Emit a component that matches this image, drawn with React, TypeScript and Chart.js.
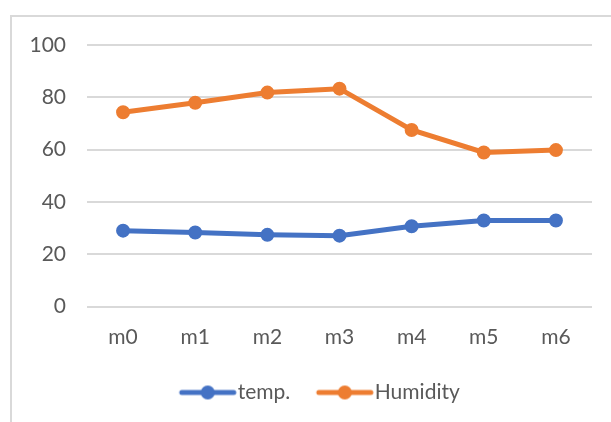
import React, { useEffect, useRef } from "react";
import { Chart, registerables } from "chart.js";

Chart.register(...registerables);

const categories = ["m0", "m1", "m2", "m3", "m4", "m5", "m6"];
const tempValues = [29.0, 28.3, 27.4, 27.1, 30.7, 32.9, 32.9];
const humidityValues = [74.3, 77.9, 81.8, 83.3, 67.5, 58.9, 59.8];
const yTicks = [0, 20, 40, 60, 80, 100];

const BLUE = "#4472C4";
const ORANGE = "#ED7D31";
const TEXT = "#595959";
const GRID = "#D9D9D9";
const FONT = "Lato, 'Open Sans', sans-serif";
const FS = 21;

function legendImage(color: string): HTMLCanvasElement {
  const c = document.createElement("canvas");
  const w = 64 + FS;
  c.width = w;
  c.height = 20;
  const ctx = c.getContext("2d")!;
  ctx.strokeStyle = color;
  ctx.lineWidth = 5;
  ctx.lineCap = "round";
  ctx.beginPath();
  ctx.moveTo(w - 56, 10);
  ctx.lineTo(w - 4, 10);
  ctx.stroke();
  ctx.fillStyle = color;
  ctx.beginPath();
  ctx.arc(w - 30, 10, 7, 0, Math.PI * 2);
  ctx.fill();
  return c;
}

export default function App() {
  const ref = useRef<HTMLCanvasElement>(null);

  useEffect(() => {
    document.body.style.margin = "0";
    const imgs = [legendImage(BLUE), legendImage(ORANGE)];
    const chart = new Chart(ref.current!, {
      type: "line",
      data: {
        labels: categories,
        datasets: [
          {
            label: "temp.",
            data: tempValues,
            borderColor: BLUE,
            backgroundColor: BLUE,
            borderWidth: 5,
            pointRadius: 6,
            pointBorderWidth: 2,
            pointBackgroundColor: BLUE,
            pointBorderColor: BLUE,
            tension: 0,
          },
          {
            label: "Humidity",
            data: humidityValues,
            borderColor: ORANGE,
            backgroundColor: ORANGE,
            borderWidth: 5,
            pointRadius: 6,
            pointBorderWidth: 2,
            pointBackgroundColor: ORANGE,
            pointBorderColor: ORANGE,
            tension: 0,
          },
        ],
      },
      options: {
        animation: false,
        responsive: false,
        maintainAspectRatio: false,
        layout: { padding: { top: 45, bottom: 9, left: 0, right: 0 } },
        plugins: {
          tooltip: { enabled: false },
          legend: {
            position: "bottom",
            labels: {
              usePointStyle: true,
              pointStyleWidth: 64,
              padding: 10,
              color: TEXT,
              font: { family: FONT, size: FS },
              generateLabels: (ch: any) =>
                (Chart.defaults.plugins.legend.labels.generateLabels as any)(ch).map(
                  (l: any, i: number) => ({ ...l, pointStyle: imgs[i] })
                ),
            },
          },
        },
        scales: {
          x: {
            grid: { display: false },
            border: { display: false },
            offset: true,
            ticks: {
              color: TEXT,
              font: { family: FONT, size: FS },
              padding: 10,
              maxRotation: 0,
            },
            afterFit: (s: any) => {
              s.height = 65.5;
            },
          },
          y: {
            min: 0,
            max: 100,
            afterBuildTicks: (s: any) => {
              s.ticks = yTicks.map((v) => ({ value: v }));
            },
            grid: { color: GRID, lineWidth: 2, drawTicks: false },
            border: { display: false },
            ticks: {
              color: TEXT,
              font: { family: FONT, size: FS },
              padding: 21,
            },
            afterFit: (s: any) => {
              s.width = 85;
            },
          },
          y2: {
            position: "right",
            display: true,
            min: 0,
            max: 1,
            grid: { display: false, drawTicks: false },
            border: { display: false },
            ticks: { display: false },
            afterFit: (s: any) => {
              s.width = 29;
            },
          },
        },
      },
    } as any);
    return () => chart.destroy();
  }, []);

  return (
    <div
      style={{
        position: "relative",
        width: 611,
        height: 422,
        overflow: "hidden",
        background: "#fff",
      }}
    >
      <div
        style={{
          position: "absolute",
          left: 10,
          top: 15,
          width: 640,
          height: 440,
          border: "2px solid " + GRID,
          boxSizing: "border-box",
        }}
      />
      <canvas
        ref={ref}
        width={619}
        height={422}
        style={{ position: "absolute", left: 2, top: 0, width: 619, height: 422 }}
      />
    </div>
  );
}
